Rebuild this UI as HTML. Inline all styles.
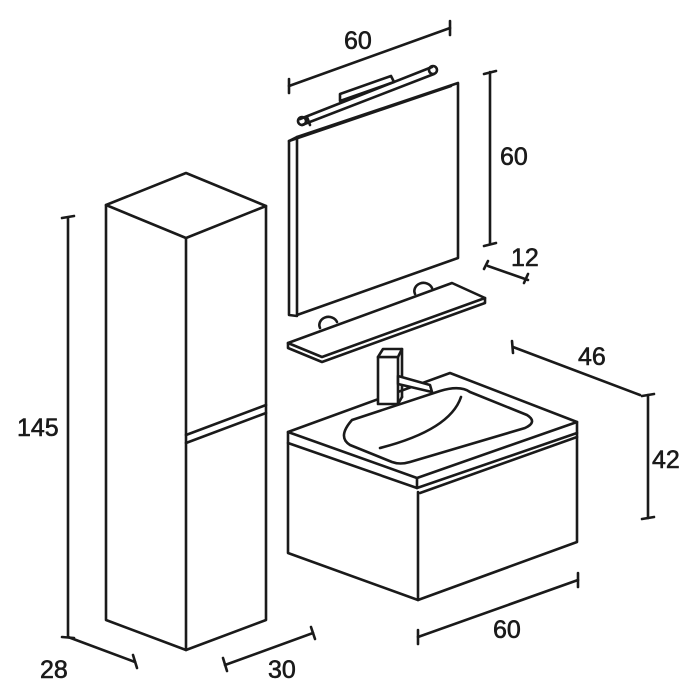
<!DOCTYPE html>
<html><head><style>html,body{margin:0;padding:0;background:#fff}svg{display:block}</style></head><body>
<svg width="700" height="700" viewBox="0 0 700 700" xmlns="http://www.w3.org/2000/svg" fill="none" stroke="#1a1a1a" stroke-width="2.6" stroke-linejoin="round" stroke-linecap="round">
<!-- column -->
<polygon points="106,205 186,173 266,206 186,238"/>
<polyline points="106,205 106,620 186,650 266,620 266,206"/>
<line x1="186" y1="238" x2="186" y2="650"/>
<line x1="186" y1="435" x2="266" y2="405"/>
<line x1="186" y1="443" x2="266" y2="413"/>
<!-- column dims -->
<line x1="68" y1="218" x2="68" y2="637"/>
<line x1="62" y1="218" x2="74" y2="216"/>
<line x1="62" y1="637" x2="74" y2="638"/>
<line x1="68" y1="637" x2="135" y2="662"/>
<line x1="133" y1="655" x2="137" y2="668"/>
<line x1="225" y1="665" x2="313" y2="633"/>
<line x1="223" y1="658" x2="227" y2="671"/>
<line x1="311" y1="627" x2="315" y2="639"/>
<!-- mirror -->
<polygon points="297,137 458,83 458,258 297,315"/>
<polyline points="297,137 289,141 289,315 297,316"/>
<line x1="289" y1="141" x2="451" y2="86"/>
<!-- light -->
<line x1="300" y1="119" x2="432" y2="67"/>
<line x1="302" y1="125" x2="434" y2="74"/>
<circle cx="433" cy="70" r="4"/>
<circle cx="302" cy="121" r="4"/>
<line x1="307" y1="117" x2="310" y2="125"/>
<polygon points="340,94 391,76 394,82 340,101"/>
<!-- shelf -->
<polygon points="288,343 452,283 485,298 322,357"/>
<polyline points="288,343 288,348 322,362 485,303 485,298"/>
<path d="M320,328 A9,8 0 0 1 337,322"/>
<path d="M415,294 A9,8 0 0 1 432,288"/>
<!-- mirror dims -->
<line x1="289" y1="86" x2="450" y2="28"/>
<line x1="289" y1="79" x2="289" y2="93"/>
<line x1="450" y1="21" x2="450" y2="35"/>
<line x1="490" y1="72" x2="490" y2="244"/>
<line x1="484" y1="74" x2="496" y2="71"/>
<line x1="484" y1="246" x2="496" y2="243"/>
<line x1="488" y1="266" x2="528" y2="280"/>
<line x1="488" y1="261" x2="484" y2="269"/>
<line x1="528" y1="274" x2="524" y2="283"/>
<!-- vanity -->
<polygon points="288,432 450,373 577,422 417,478"/>
<polyline points="288,432 288,443 417,488 577,433 577,422"/>
<line x1="417" y1="478" x2="417" y2="488"/>
<polyline points="288,443 288,553 418,600 577,542 577,433"/>
<line x1="418" y1="492" x2="418" y2="600"/>
<line x1="420" y1="493" x2="577" y2="437"/>
<path d="M352,420 L440,391 Q460,385 470,392 L527,415 Q538,422 525,428 L410,462 Q400,465 392,462 L350,445 Q337,437 352,420 Z"/>
<path d="M461,397 Q450,430 380,448"/>
<!-- faucet -->
<rect x="378" y="357" width="20" height="47" fill="#fff"/>
<polygon points="378,357 383,349 402,349 398,357" fill="#fff"/>
<line x1="402" y1="349" x2="402" y2="397"/>
<line x1="398" y1="404" x2="402" y2="397"/>
<polygon points="398,376 430,385 432,392 398,384" fill="#fff"/>
<!-- vanity dims -->
<line x1="513" y1="347" x2="640" y2="395"/>
<line x1="512" y1="341" x2="513" y2="353"/>
<line x1="648" y1="395" x2="648" y2="518"/>
<line x1="642" y1="396" x2="654" y2="394"/>
<line x1="642" y1="519" x2="654" y2="517"/>
<line x1="418" y1="637" x2="578" y2="580"/>
<line x1="418" y1="630" x2="418" y2="644"/>
<line x1="578" y1="573" x2="578" y2="587"/>
<g fill="#1a1a1a" stroke="#1a1a1a" stroke-width="0.6" font-family="Liberation Sans, sans-serif" font-size="25">
<text x="17" y="436">145</text>
<text x="40" y="678">28</text>
<text x="268" y="678">30</text>
<text x="344" y="49">60</text>
<text x="500" y="165">60</text>
<text x="511" y="266">12</text>
<text x="578" y="365">46</text>
<text x="652" y="468">42</text>
<text x="493" y="638">60</text>
</g>
</svg>
</body></html>
